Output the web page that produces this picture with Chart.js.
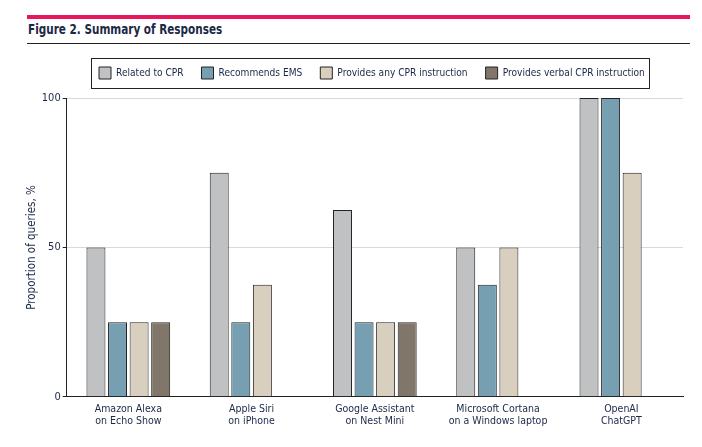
<!DOCTYPE html>
<html>
<head>
<meta charset="utf-8">
<script src="https://cdn.jsdelivr.net/npm/chart.js@4.4.0/dist/chart.umd.min.js"></script>
<style>
  body { margin: 0; background: #fff; width: 702px; height: 447px; overflow: hidden; position: relative; }
  .pink { position: absolute; left: 27px; top: 15px; width: 663px; height: 4px; background: #e8175d; }
  .title { position: absolute; left: 28px; top: 21px; font: bold 14px "DejaVu Sans Condensed", sans-serif; color: #1b2846;
           transform: scaleX(0.83); transform-origin: left top; white-space: nowrap; }
  .rule { position: absolute; left: 27px; top: 43px; width: 663px; height: 1px; background: #222; }
  .wrap { position: absolute; left: 0; top: 50px; width: 702px; height: 397px; }
</style>
</head>
<body>
<div class="pink"></div>
<div class="title">Figure 2. Summary of Responses</div>
<div class="rule"></div>
<div class="wrap"><canvas id="myCanvas"></canvas></div>
<script>
var categories = [
    ['Amazon Alexa', 'on Echo Show'],
    ['Apple Siri', 'on iPhone'],
    ['Google Assistant', 'on Nest Mini'],
    ['Microsoft Cortana', 'on a Windows laptop'],
    ['OpenAI', 'ChatGPT']
]
var seriesNames = ['Related to CPR', 'Recommends EMS', 'Provides any CPR instruction', 'Provides verbal CPR instruction']
var relatedToCPR = [50, 75, 62.5, 50, 100]
var recommendsEMS = [25, 25, 25, 37.5, 100]
var anyInstruction = [25, 37.5, 25, 50, 75]
var verbalInstruction = [25, 0, 25, 0, 0]
var yTicks = [0, 50, 100]

var colors = ['#c0c1c3', '#76a0b1', '#d8cfbf', '#80776a']
var textColor = '#1b2846'
var fontFamily = '"DejaVu Sans Condensed", sans-serif'

// move the legend to where the figure has it and draw a frame round it
var legendBox = {
    id: 'legendBox',
    afterLayout(chart) {
        let lg = chart.legend
        let pad = lg.options.labels.padding
        let start = (lg.left + lg.right + pad - lg.lineWidths[0]) / 2
        let off = 99 - start
        lg.left += off
        lg.right += off
        lg.top -= 9
        lg.bottom -= 9
    },
    afterDraw(chart) {
        let boxes = chart.legend.legendHitBoxes
        if (!boxes || !boxes.length) return
        let ctx = chart.ctx
        let left = boxes[0].left - 8
        let last = boxes[boxes.length - 1]
        let right = last.left + last.width + 4
        let top = boxes[0].top + boxes[0].height / 2 - 15
        ctx.save()
        ctx.strokeStyle = '#222'
        ctx.lineWidth = 1
        ctx.strokeRect(Math.round(left) + 0.5, Math.round(top) + 0.5, Math.round(right - left), 30)
        ctx.restore()
    }
}

var data = [relatedToCPR, recommendsEMS, anyInstruction, verbalInstruction]

let ctx = document.getElementById('myCanvas').getContext('2d')
let myChart = new Chart(ctx, {
    type: 'bar',
    data: {
        labels: categories,
        datasets: seriesNames.map((name, i) => ({
            label: name,
            data: data[i].map(v => v === 0 ? null : v),
            backgroundColor: colors[i],
            borderColor: '#222',
            borderWidth: 1,
            barPercentage: 0.88,
            categoryPercentage: 0.7
        }))
    },
    options: {
        responsive: true,
        maintainAspectRatio: false,
        animation: false,
        layout: { padding: { left: 25, right: 19, top: 8, bottom: 14 } },
        plugins: {
            tooltip: { enabled: false },
            legend: {
                position: 'top',
                labels: {
                    boxWidth: 12,
                    boxHeight: 12,
                    padding: 18,
                    color: textColor,
                    font: { family: fontFamily, size: 10.1 }
                }
            }
        },
        scales: {
            x: {
                grid: { drawOnChartArea: false, drawTicks: false },
                border: { color: '#222', width: 1 },
                ticks: {
                    color: textColor,
                    padding: 6,
                    maxRotation: 0,
                    autoSkip: false,
                    font: { family: fontFamily, size: 10.5, lineHeight: 1.15 }
                }
            },
            y: {
                min: 0,
                max: 100,
                afterBuildTicks: (scale) => { scale.ticks = yTicks.map(v => ({ value: v })) },
                grid: {
                    color: (c) => c.tick && c.tick.value === 0 ? 'rgba(0,0,0,0)' : '#d9d9d9',
                    tickColor: '#222',
                    tickLength: 4
                },
                border: { color: '#222', width: 1 },
                ticks: {
                    color: textColor,
                    padding: 2,
                    font: { family: fontFamily, size: 11 }
                },
                title: {
                    display: true,
                    text: 'Proportion of queries, %',
                    color: textColor,
                    padding: { top: 0, bottom: 1 },
                    font: { family: fontFamily, size: 11.5 }
                }
            }
        }
    },
    plugins: [legendBox]
})
</script>
</body>
</html>
